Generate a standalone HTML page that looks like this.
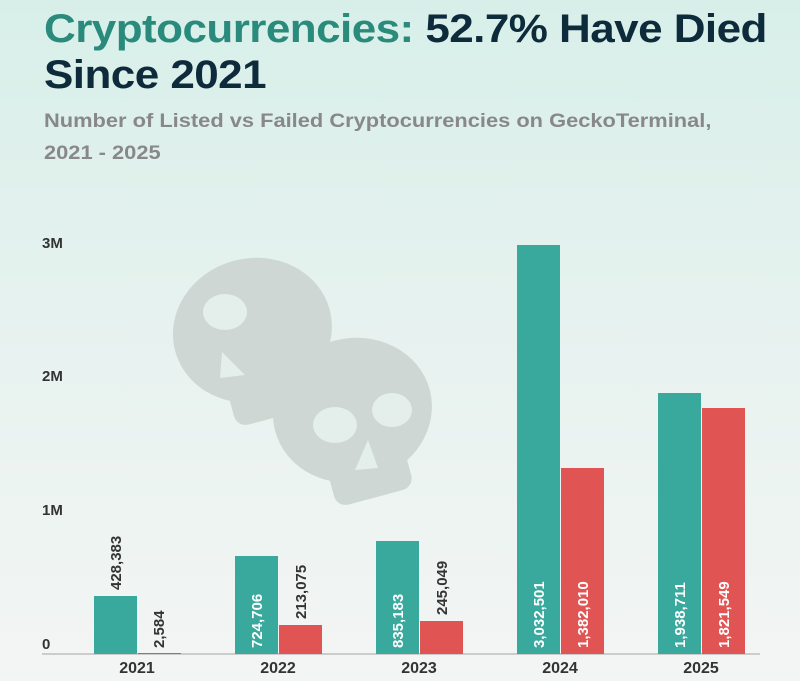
<!DOCTYPE html>
<html><head><meta charset="utf-8"><style>
body{margin:0;width:800px;height:681px;overflow:hidden;background:linear-gradient(#d8efe9 0%,#e6f2ef 45%,#f3f5f4 100%);font-family:"Liberation Sans",sans-serif;}
.t{position:absolute;left:44px;top:6px;font-size:40px;font-weight:bold;line-height:46px;color:#0e2b3c;letter-spacing:-0.5px;transform:scaleX(1.1);transform-origin:0 0;white-space:nowrap}
.t span{color:#2a8a7c}
.s{position:absolute;left:44px;top:106px;font-size:19px;font-weight:bold;line-height:32px;color:#888;transform:scaleX(1.15);transform-origin:0 0;white-space:nowrap}
</style></head><body>
<div class="t"><span>Cryptocurrencies:</span> 52.7% Have Died<br>Since 2021</div>
<div class="s">Number of Listed vs Failed Cryptocurrencies on GeckoTerminal,<br>2021 - 2025</div>
<svg width="800" height="681" style="position:absolute;left:0;top:0">
<g fill="#cfd7d4">
<g transform="translate(255,340) rotate(-15)">
<ellipse cx="0" cy="-10" rx="80" ry="72"/><rect x="-40" y="30" width="80" height="50" rx="12"/>
</g>
<g transform="translate(355,420) rotate(-15)">
<ellipse cx="0" cy="-10" rx="80" ry="72"/><rect x="-40" y="30" width="80" height="50" rx="12"/>
</g>
</g>
<g fill="#e4eeeb">
<ellipse cx="225" cy="312" rx="22" ry="18"/><polygon points="222,352 245,375 220,378"/>
<ellipse cx="335" cy="425" rx="22" ry="18"/><ellipse cx="392" cy="410" rx="20" ry="17"/><polygon points="368,440 378,468 355,470"/>
</g>
<g font-weight="bold" font-size="15" fill="#333">
<text x="42" y="248">3M</text><text x="42" y="381">2M</text><text x="42" y="515">1M</text><text x="42" y="649">0</text>
</g>
<line x1="42" y1="654" x2="760" y2="654" stroke="#ccc" stroke-width="2"/>
<g fill="#39a99e">
<rect x="94" y="596" width="43" height="58"/>
<rect x="235" y="556" width="43" height="98"/>
<rect x="376" y="541" width="43" height="113"/>
<rect x="517" y="245" width="43" height="409"/>
<rect x="658" y="393" width="43" height="261"/>
</g>
<g fill="#e05454">
<rect x="138" y="653" width="43" height="1"/>
<rect x="279" y="625" width="43" height="29"/>
<rect x="420" y="621" width="43" height="33"/>
<rect x="561" y="468" width="43" height="186"/>
<rect x="702" y="408" width="43" height="246"/>
</g>
<g font-size="15" font-weight="bold" fill="#333">
<text transform="translate(121,590) rotate(-90)">428,383</text>
<text transform="translate(164,648) rotate(-90)">2,584</text>
<text transform="translate(306,619) rotate(-90)">213,075</text>
<text transform="translate(447,615) rotate(-90)">245,049</text>
</g>
<g font-size="15" font-weight="bold" fill="#fff">
<text transform="translate(262,648) rotate(-90)">724,706</text>
<text transform="translate(403,648) rotate(-90)">835,183</text>
<text transform="translate(544,648) rotate(-90)">3,032,501</text>
<text transform="translate(588,648) rotate(-90)">1,382,010</text>
<text transform="translate(685,648) rotate(-90)">1,938,711</text>
<text transform="translate(729,648) rotate(-90)">1,821,549</text>
</g>
<g font-size="16" font-weight="bold" fill="#333" text-anchor="middle">
<text x="137" y="673">2021</text><text x="278" y="673">2022</text><text x="419" y="673">2023</text><text x="560" y="673">2024</text><text x="701" y="673">2025</text>
</g>
</svg>
</body></html>
